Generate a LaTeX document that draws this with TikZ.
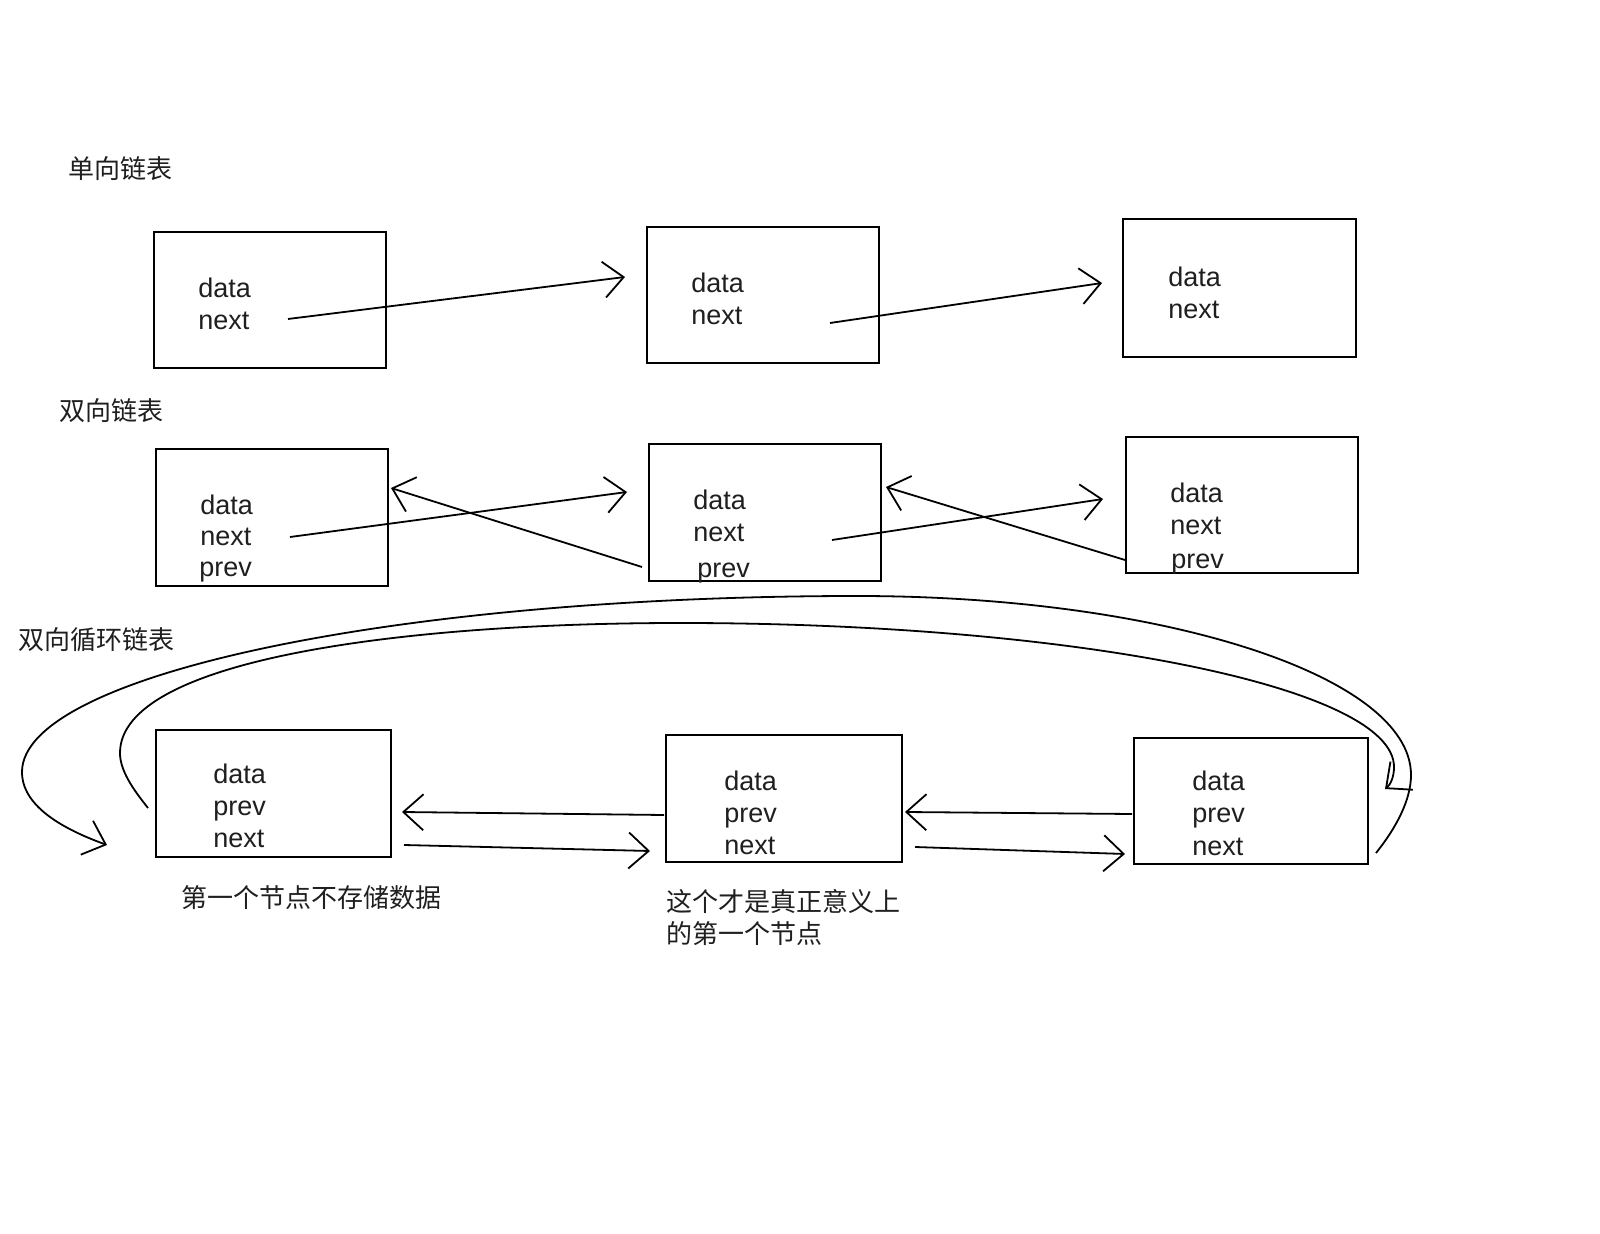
\documentclass[tikz,border=0pt]{standalone}
\usepackage{fontspec}
\setmainfont{Liberation Sans}
\newfontfamily\cjk{Noto Sans CJK SC}
\usetikzlibrary{arrows.meta,fit}
\begin{document}
\begin{tikzpicture}[x=0.5pt,y=-0.5pt,
  box/.style={draw, line width=1.3pt, inner sep=0pt},
  lbl/.style={anchor=base west, inner sep=0pt, text=black!88, font=\fontsize{13.5}{16}\selectfont},
  cn/.style={anchor=west, inner sep=0pt, text=black!88, font=\cjk\fontsize{13}{16}\selectfont},
  arr/.style={line width=0.9pt, -{Straight Barb[length=10pt,width=18pt,line width=0.9pt]}},
  curve/.style={line width=0.9pt}]
\fill[white] (0,0) rectangle (1600,1234);
\useasboundingbox (0,0) rectangle (1600,1234);

% titles
\node[cn] (t1) at (68,169) {单向链表};
\node[cn] (t2) at (59,411) {双向链表};
\node[cn] (t3) at (18,640) {双向循环链表};

% row A
\node[box, fit={(154,232) (386,368)}] (A1) {};
\node[box, fit={(647,227) (879,363)}] (A2) {};
\node[box, fit={(1123,219) (1356,357)}] (A3) {};
\node[lbl] (A1d) at (198,298) {data};
\node[lbl] (A1n) at (198,330) {next};
\node[lbl] (A2d) at (691,293) {data};
\node[lbl] (A2n) at (691,325) {next};
\node[lbl] (A3d) at (1168,287) {data};
\node[lbl] (A3n) at (1168,319) {next};
\coordinate (a1s) at (288,319);
\coordinate (a2e) at (625,277);
\coordinate (a2s) at (830,323);
\coordinate (a3e) at (1102,283);
\draw[arr] (a1s) -- (a2e);
\draw[arr] (a2s) -- (a3e);

% row B
\node[box, fit={(156,449) (388,586)}] (B1) {};
\node[box, fit={(649,444) (881,581)}] (B2) {};
\node[box, fit={(1126,437) (1358,573)}] (B3) {};
\node[lbl] (B1d) at (200,515) {data};
\node[lbl] (B1n) at (200,546) {next};
\node[lbl] (B1p) at (199,577) {prev};
\node[lbl] (B2d) at (693,510) {data};
\node[lbl] (B2n) at (693,542) {next};
\node[lbl] (B2p) at (697,578) {prev};
\node[lbl] (B3d) at (1170,503) {data};
\node[lbl] (B3n) at (1170,535) {next};
\node[lbl] (B3p) at (1171,569) {prev};
\coordinate (b1s) at (290,537);
\coordinate (b2e) at (627,492);
\coordinate (b2s) at (832,540);
\coordinate (b3e) at (1103,499);
\coordinate (b2ps) at (642,567);
\coordinate (b1pe) at (391,488);
\coordinate (b3ps) at (1125,560);
\coordinate (b2pe) at (886,487);
\draw[arr] (b1s) -- (b2e);
\draw[arr] (b2s) -- (b3e);
\draw[arr] (b2ps) -- (b1pe);
\draw[arr] (b3ps) -- (b2pe);

% row C
\node[box, fit={(156,730) (391,857)}] (C1) {};
\node[box, fit={(666,735) (902,862)}] (C2) {};
\node[box, fit={(1134,738) (1368,864)}] (C3) {};
\node[lbl] (C1d) at (213,783) {data};
\node[lbl] (C1p) at (213,815) {prev};
\node[lbl] (C1n) at (213,847) {next};
\node[lbl] (C2d) at (724,790) {data};
\node[lbl] (C2p) at (724,822) {prev};
\node[lbl] (C2n) at (724,854) {next};
\node[lbl] (C3d) at (1192,790) {data};
\node[lbl] (C3p) at (1192,822) {prev};
\node[lbl] (C3n) at (1192,855) {next};
\coordinate (c2ps) at (664,815);
\coordinate (c1pe) at (402,812);
\coordinate (c1ns) at (404,845);
\coordinate (c2ne) at (650,851);
\coordinate (c3ps) at (1132,814);
\coordinate (c2pe) at (905,812);
\coordinate (c2ns) at (915,847);
\coordinate (c3ne) at (1125,854);
\draw[arr] (c2ps) -- (c1pe);
\draw[arr] (c1ns) -- (c2ne);
\draw[arr] (c3ps) -- (c2pe);
\draw[arr] (c2ns) -- (c3ne);

% circular connectors
\coordinate (c3os) at (1376,853);
\coordinate (c1oe) at (107,845);
\coordinate (c1is) at (148,808);
\coordinate (c3ie) at (1385,789);
\draw[arr] (c3os) .. controls (1396,828) and (1411,800) .. (1411,775)
  .. controls (1411,676) and (1163,596) .. (857,596)
  .. controls (396,596) and (22,675) .. (22,772)
  .. controls (22,805) and (60,828) .. (c1oe);
\draw[arr] (c1is) .. controls (132,788) and (120,770) .. (120,753)
  .. controls (120,660) and (400,623) .. (680,623)
  .. controls (1074,623) and (1394,687) .. (1394,767)
  .. controls (1394,778) and (1390,785) .. (c3ie);

% captions
\node[cn] (cap1) at (181,898) {第一个节点不存储数据};
\node[cn] (cap2) at (666,902) {这个才是真正意义上};
\node[cn] (cap3) at (666,934) {的第一个节点};
\end{tikzpicture}
\end{document}
